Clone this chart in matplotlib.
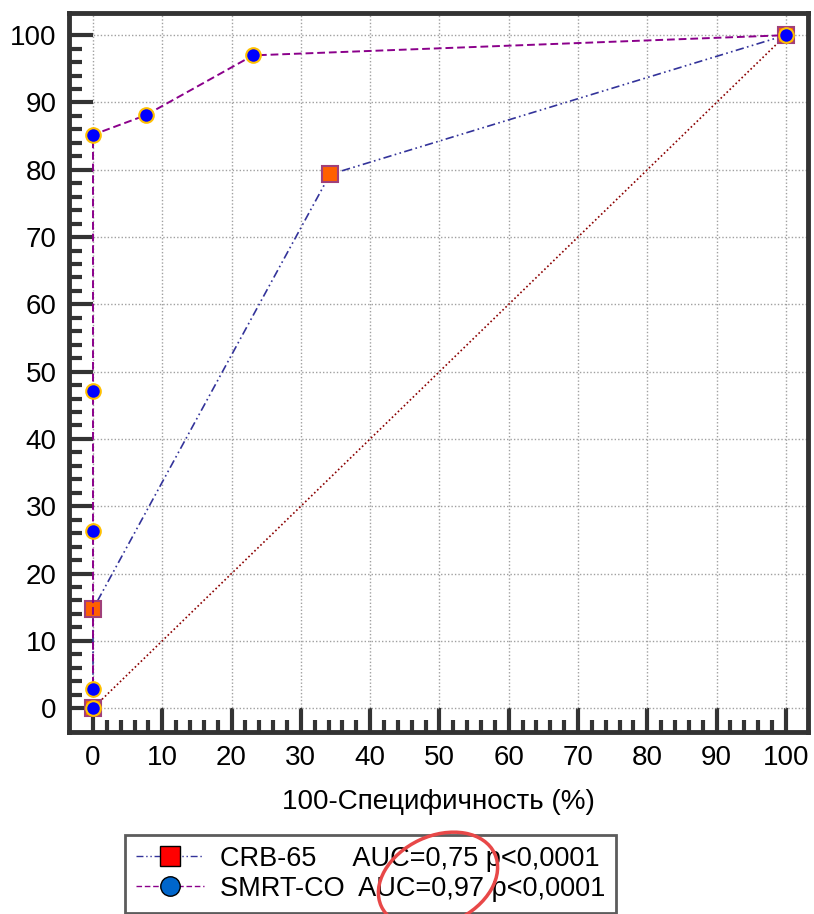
import matplotlib
matplotlib.use("Agg")
import matplotlib.pyplot as plt
from matplotlib.lines import Line2D
from matplotlib.patches import Ellipse
from matplotlib.ticker import FixedLocator

plt.rcParams['font.family'] = ['Liberation Sans', 'DejaVu Sans']

# Data
crb_x = [0, 0, 34.2, 100]
crb_y = [0, 14.7, 79.3, 100]
smrt_x = [0, 0, 0, 0, 0, 7.6, 23.1, 100]
smrt_y = [0, 2.8, 26.3, 47.1, 85.2, 88.1, 97.0, 100]
diag_x = [0, 100]
diag_y = [0, 100]
labels = ["CRB-65     AUC=0,75 p<0,0001", "SMRT-CO  AUC=0,97 p<0,0001"]
xlabel = "100-Специфичность (%)"
major_ticks = list(range(0, 101, 10))
minor_ticks = [v for v in range(0, 101, 2) if v % 10]

fig = plt.figure(figsize=(8.14, 9.14), dpi=100)
ax = fig.add_axes([0.0848, 0.199, 0.9926 - 0.0848, 0.9858 - 0.199])

ax.plot(diag_x, diag_y, color='#8B0000', linestyle=(0, (1, 1.5)), linewidth=1.2, zorder=2)
ax.plot(crb_x, crb_y, color='#33339a', linestyle=(0, (5, 2, 1, 2, 1, 2)), linewidth=1.2,
        marker='s', markersize=11.5, markerfacecolor='#ff6000', markeredgecolor='#a0407a',
        markeredgewidth=1.5, zorder=3)
ax.plot(smrt_x, smrt_y, color='#8B008B', linestyle=(0, (4, 2)), linewidth=1.4,
        marker='o', markersize=10.5, markerfacecolor='#0000ff', markeredgecolor='#ffc000',
        markeredgewidth=1.5, zorder=4)

ax.set_xlim(-3.46, 103.2)
ax.set_ylim(-3.57, 103.3)
ax.set_xticks(major_ticks)
ax.set_yticks(major_ticks)
ax.xaxis.set_minor_locator(FixedLocator(minor_ticks))
ax.yaxis.set_minor_locator(FixedLocator(minor_ticks))
ax.grid(True, which='major', color='#a0a0a0', linestyle=(0, (1, 1.5)), linewidth=1.0)
ax.set_axisbelow(True)

ax.tick_params(which='major', direction='in', length=17, width=3, color='#333333',
               labelsize=20, pad=9, top=False, right=False)
ax.tick_params(which='minor', direction='in', length=9, width=3, color='#333333',
               top=False, right=False)
for s in ax.spines.values():
    s.set_linewidth(3.5)
    s.set_color('#333333')

ax.set_xlabel(xlabel, fontsize=20, labelpad=13)

handles = [
    Line2D([], [], color='#33339a', linestyle=(0, (5, 2, 1, 2, 1, 2)), linewidth=1,
           marker='s', markersize=14, markerfacecolor='#ff0000', markeredgecolor='#000000'),
    Line2D([], [], color='#8B008B', linestyle=(0, (4, 2)), linewidth=1,
           marker='o', markersize=14, markerfacecolor='#0066cc', markeredgecolor='#000000'),
]
leg = fig.legend(handles, labels, loc='upper left', bbox_to_anchor=(125 / 814, 1 - 835 / 914),
                 fontsize=19.5, frameon=True, fancybox=False, handlelength=2.5,
                 borderpad=0.4, labelspacing=0.15, handletextpad=0.6, borderaxespad=0)
leg.get_frame().set_edgecolor('#333333')
leg.get_frame().set_linewidth(2)
leg.set_zorder(5)

ell = Ellipse((4.38, (914 - 880) / 100), 1.25, 0.88, angle=25, fill=False,
              edgecolor='#e84848', linewidth=2.5, transform=fig.dpi_scale_trans, zorder=20)
fig.add_artist(ell)

fig.savefig("out.png", dpi=100)
